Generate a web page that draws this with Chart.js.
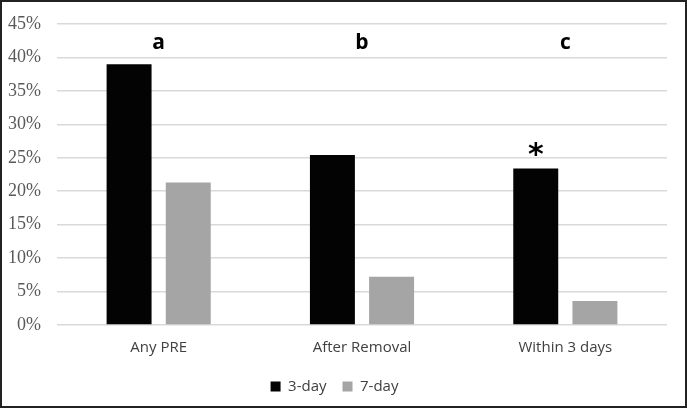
<!DOCTYPE html>
<html>
<head>
<meta charset="utf-8">
<script src="https://cdn.jsdelivr.net/npm/chart.js@4/dist/chart.umd.min.js"></script>
<style>
html,body{margin:0;padding:0;background:#fff;}
#wrap{position:relative;width:683px;height:404px;border:2px solid #222;background:#fff;}
</style>
</head>
<body>
<div id="wrap"><canvas id="chart"></canvas></div>
<script>
// chart data
const categories = ["Any PRE", "After Removal", "Within 3 days"];
const threeDay = [39.0, 25.4, 23.4];
const sevenDay = [21.3, 7.2, 3.6];
const groupLetters = ["a", "b", "c"];
const starMarks = ["", "", "*"];
const yTicks = [0, 5, 10, 15, 20, 25, 30, 35, 40, 45];

// letters over each group, asterisk over 3-day bar
const annotate = {
  id: "annotate",
  afterDatasetsDraw(chart){
    const ctx = chart.ctx;
    const x = chart.scales.x;
    const y = chart.scales.y;
    ctx.save();
    ctx.fillStyle = "#000";
    ctx.textAlign = "center";
    ctx.textBaseline = "middle";
    ctx.font = "bold 21px 'Open Sans', sans-serif";
    groupLetters.forEach((l,i)=>{
      ctx.fillText(l, x.getPixelForValue(i), y.getPixelForValue(42.2));
    });
    const meta = chart.getDatasetMeta(0);
    ctx.font = "bold 30px 'DejaVu Sans', sans-serif";
    starMarks.forEach((m,i)=>{
      if(!m) return;
      const bar = meta.data[i];
      ctx.fillText(m, bar.x, bar.y - 12);
    });
    ctx.restore();
  }
};

new Chart(document.getElementById("chart"),{
  type:"bar",
  data:{
    labels:categories,
    datasets:[
      {label:"3-day", data:threeDay, backgroundColor:"#030303", borderWidth:0},
      {label:"7-day", data:sevenDay, backgroundColor:"#a5a5a5", borderWidth:0}
    ]
  },
  options:{
    responsive:true,
    maintainAspectRatio:false,
    animation:false,
    categoryPercentage:0.582,
    barPercentage:0.76,
    layout:{padding:{top:22,right:18,left:0,bottom:2}},
    plugins:{
      legend:{
        display:true,
        position:"bottom",
        labels:{
          boxWidth:10, boxHeight:10,
          color:"#404040",
          font:{family:"'Open Sans', sans-serif", size:15},
          padding:16
        }
      },
      tooltip:{enabled:false}
    },
    scales:{
      x:{
        grid:{display:false},
        border:{display:false},
        ticks:{color:"#404040", font:{family:"'Open Sans', sans-serif", size:15}, padding:6}
      },
      y:{
        min:0, max:45,
        afterBuildTicks(axis){ axis.ticks = yTicks.map(v=>({value:v})); },
        afterFit(axis){ axis.width = 55; axis.paddingTop = 0; axis.paddingBottom = 0; },
        grid:{color:"#d9d9d9", lineWidth:1.5, drawTicks:false},
        border:{display:false},
        ticks:{
          color:"#595959",
          padding:16,
          font:{family:"'Liberation Serif', serif", size:18},
          callback:v=>v+"%"
        }
      }
    }
  },
  plugins:[annotate]
});
</script>
</body>
</html>
